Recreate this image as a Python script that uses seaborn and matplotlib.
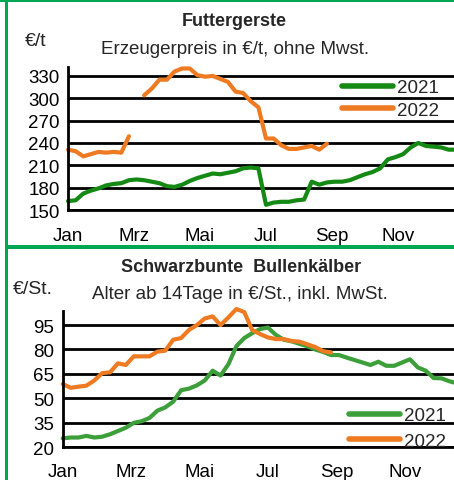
import numpy as np
import pandas as pd
import matplotlib
matplotlib.use("Agg")
import matplotlib.pyplot as plt
from matplotlib.patches import Rectangle
import seaborn as sns

# Wochenwerte (KW 1-52)
jahre = ["2021", "2022"]
monate = ["Jan", "Mrz", "Mai", "Jul", "Sep", "Nov"]
monat_pos = [0, 2, 4, 6, 8, 10]

gerste_2021 = [162, 163, 172, 176, 179, 183, 185, 186, 190, 191, 190, 188, 186,
               182, 181, 184, 189, 193, 196, 199, 198, 200, 202, 206, 207, 206,
               157, 160, 161, 161, 163, 164, 188, 184, 187, 188, 188, 190, 194,
               198, 201, 206, 218, 221, 225, 234, 240, 236, 235, 234, 231, 231]
gerste_2022 = [231, 229, 222, 225, 228, 227, 228, 227, 249, np.nan, 304, 313,
               325, 325, 336, 340, 340, 331, 329, 330, 326, 322, 309, 307, 296,
               288, 246, 246, 237, 232, 232, 234, 236, 231, 239]

kaelber_2021 = [25.5, 26, 26, 27, 26, 26.5, 28, 30, 32, 35, 36, 38, 42.5, 44.5,
                48, 55, 56, 58, 61, 67, 64, 71, 82, 87, 90, 92.5, 93.5, 89, 86,
                85, 83.5, 82, 80, 78.5, 76.6, 76.6, 75, 73.5, 72, 70.5, 72.5, 70,
                70, 72, 74, 69, 67, 62.5, 62.3, 60.5, 59.2, 58.5]
kaelber_2022 = [58.8, 56.5, 57.2, 57.8, 61, 65.5, 66, 71.5, 70.5, 75.8, 75.8,
                75.8, 78.7, 79.3, 86, 87, 92, 95, 99, 100.3, 95, 99.7, 104.8,
                103, 92, 89.5, 87.4, 86.4, 86.4, 85.2, 84.8, 83.2, 81.5, 79, 78.2]

W, H = 454, 481
GRUEN_RAHMEN = "#00a651"
ORANGE = "#ee7a22"


def long_df(werte_2021, werte_2022):
    teile = []
    for jahr, werte in zip(jahre, [werte_2021, werte_2022]):
        v = np.array(werte, dtype=float)
        woche = np.arange(len(v))
        d = pd.DataFrame({"x": woche * 12 / 52, "wert": v, "Jahr": jahr,
                          "seg": np.cumsum(np.isnan(v))})
        teile.append(d.dropna())
    return pd.concat(teile, ignore_index=True)


def px_axes(fig, left, top, right, bottom):
    return fig.add_axes([left / W, 1 - bottom / H, (right - left) / W, (bottom - top) / H])


def style_axes(ax, xmax, ylim, yticks, xpad):
    ax.set_xlim(0, xmax)
    ax.set_ylim(*ylim)
    ax.set_xticks(monat_pos)
    ax.set_xticklabels(monate)
    ax.set_yticks(yticks)
    ax.set_xlabel("")
    ax.set_ylabel("")
    ax.set_axisbelow(True)
    ax.yaxis.grid(True, color="black", lw=2)
    ax.xaxis.grid(False)
    for s in ["top", "right"]:
        ax.spines[s].set_visible(False)
    for s in ["left", "bottom"]:
        ax.spines[s].set_color("black")
        ax.spines[s].set_linewidth(2)
    ax.tick_params(axis="both", direction="out", length=5, width=2,
                   color="black", labelsize=13.5, labelcolor="black")
    ax.tick_params(axis="y", pad=1)
    ax.tick_params(axis="x", pad=xpad)
    ax.set_facecolor("white")


def draw_panel(ax, df, farben, leg_x, leg_y, spacing):
    sns.lineplot(data=df, x="x", y="wert", hue="Jahr", units="seg",
                 estimator=None, palette=farben, lw=3, sort=False, ax=ax)
    for line in ax.get_lines():
        line.set_clip_on(False)
        line.set_solid_capstyle("round")
    sns.move_legend(ax, "upper left", bbox_to_anchor=(leg_x / W, 1 - leg_y / H),
                    bbox_transform=ax.figure.transFigure, title=None,
                    frameon=False, fontsize=13.5, handlelength=2.7,
                    handletextpad=0.25, labelspacing=spacing, borderpad=0,
                    borderaxespad=0)
    for h in ax.get_legend().get_lines():
        h.set_linewidth(4)


sns.set_theme(style="white")
plt.rcParams["font.family"] = ["Liberation Sans", "DejaVu Sans"]

fig = plt.figure(figsize=(W / 100, H / 100), dpi=100)
fig.patch.set_facecolor("white")

# oberes Feld: Futtergerste
ax1 = px_axes(fig, 68, 68, W, 211)
draw_panel(ax1, long_df(gerste_2021, gerste_2022),
           {"2021": "#148a14", "2022": ORANGE}, 342, 80, 0.3)
style_axes(ax1, (W - 68) / 33.0, (150, 342), range(150, 331, 30), 7)

fig.text(234 / W, 1 - 22 / H, "Futtergerste", ha="center", va="center",
         fontsize=13, fontweight="bold")
fig.text(235 / W, 1 - 50 / H, "Erzeugerpreis in €/t, ohne Mwst.",
         ha="center", va="center", fontsize=13.5)
fig.text(36 / W, 1 - 42 / H, "€/t", ha="center", va="center", fontsize=14)

# unteres Feld: Bullenkälber
ax2 = px_axes(fig, 62.7, 311.7, W, 448.3)
draw_panel(ax2, long_df(kaelber_2021, kaelber_2022),
           {"2021": "#3c9f3a", "2022": ORANGE}, 349, 408, 0.45)
style_axes(ax2, (W - 62.7) / 34.2, (20, 103.8), range(20, 96, 15), 6)

fig.text(241 / W, 1 - 268 / H, "Schwarzbunte  Bullenkälber", ha="center",
         va="center", fontsize=13, fontweight="bold")
fig.text(240 / W, 1 - 295 / H, "Alter ab 14Tage in €/St., inkl. MwSt.",
         ha="center", va="center", fontsize=13.5)
fig.text(33 / W, 1 - 290 / H, "€/St.", ha="center", va="center", fontsize=14)

# gruener Rahmen
for x0, y0, w, h in [(0, 0, W, 2.7), (5, 0, 3, H), (5, 245.5, W - 5, 4.5)]:
    fig.add_artist(Rectangle((x0 / W, 1 - (y0 + h) / H), w / W, h / H,
                             transform=fig.transFigure, color=GRUEN_RAHMEN,
                             lw=0, zorder=10))

fig.savefig("out.png", dpi=100)
